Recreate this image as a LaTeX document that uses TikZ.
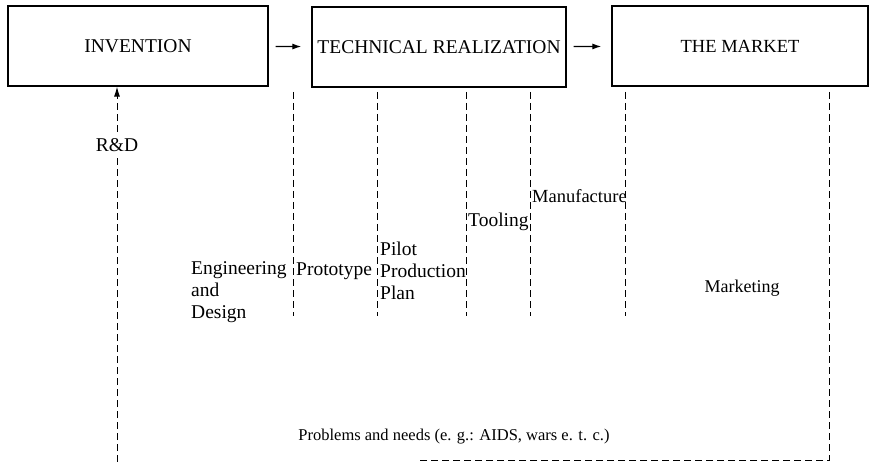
\documentclass[tikz,border=0pt]{standalone}
\usepackage{fontspec}
\setmainfont{Liberation Serif}
\usetikzlibrary{arrows.meta}

\begin{document}
\begin{tikzpicture}[x=1pt, y=-1pt,
    every node/.style={font=\fontsize{19.5}{22}\selectfont},
    stagebox/.style={draw, line width=1.3pt, minimum height=80pt},
    divider/.style={line width=1pt, dash pattern=on 7pt off 4pt},
    flow/.style={line width=1.2pt, -{Latex[length=9pt, width=6pt]}, shorten <=7pt, shorten >=10pt},
    txt/.style={align=left, inner sep=1pt}]
    \useasboundingbox (0,0) rectangle (869,462);

    % the three stages
    \node[stagebox, minimum width=260pt] (inv) at (138,46) {INVENTION};
    \node[stagebox, minimum width=254pt] (tech) at (439,47) {TECHNICAL REALIZATION};
    \node[stagebox, minimum width=256pt, font=\fontsize{18.5}{22}\selectfont] (mkt) at (740,46) {THE MARKET};
    \draw[flow] (inv) -- (tech);
    \draw[flow] (tech) -- (mkt);

    % research and development feeds the invention
    \coordinate (rdfoot) at (117,462);
    \draw[divider, -{Latex[length=10pt, width=6pt]}] (rdfoot) -- (inv.south -| rdfoot);
    \node[fill=white, inner sep=2pt] (rd) at (117,145) {R\&D};

    % phase dividers
    \foreach \x in {293,377,466,530,625}
        \draw[divider] (\x,92) -- (\x,316);
    \draw[divider] (829,92) -- (829,460) -- (420,460);

    % phases
    \node[txt, anchor=west] (eng) at (190,292) {Engineering\\and\\Design};
    \node[txt, anchor=west] (proto) at (295,271) {Prototype};
    \node[txt, anchor=west] (pilot) at (379,271) {Pilot\\Production\\Plan};
    \node[txt, anchor=west] (tool) at (467,222) {Tooling};
    \node[txt, anchor=west, font=\fontsize{18.5}{22}\selectfont] (manu) at (531,196) {Manufacture};
    \node[font=\fontsize{18}{22}\selectfont] (mark) at (742,288) {Marketing};
    \node[font=\fontsize{16.5}{20}\selectfont] (needs) at (454,437) {Problems and needs (e. g.: AIDS, wars e. t. c.)};
\end{tikzpicture}
\end{document}
